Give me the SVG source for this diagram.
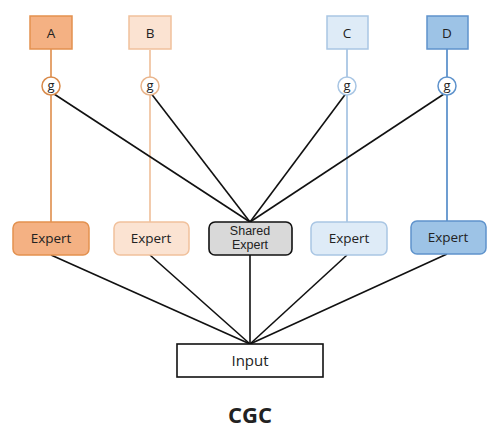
<svg xmlns="http://www.w3.org/2000/svg" width="498" height="445" viewBox="0 0 498 445">
<style>
text{font-family:"Open Sans","Noto Sans","Liberation Sans",sans-serif;fill:#222;text-anchor:middle}
.t{font-size:13.5px}
.g{font-size:13px}
.s{font-family:"Liberation Sans",Arial,sans-serif;font-size:12.5px}
.k{stroke:#111;stroke-width:1.6;fill:none}
.oa{stroke:#e39a5f}
.ob{stroke:#f1c6a4}
.bc{stroke:#a9c6e4}
.bd{stroke:#5f93cc}
</style>
<rect width="498" height="445" fill="#fff"/>
<g id="connectors" fill="none" stroke-width="1.8">
<line class="oa" x1="51" y1="49" x2="51" y2="77"/>
<line class="oa" x1="51" y1="95" x2="51" y2="222"/>
<line class="ob" x1="150" y1="50" x2="150" y2="77"/>
<line class="ob" x1="150" y1="95" x2="150" y2="222"/>
<line class="bc" x1="347" y1="49" x2="347" y2="77"/>
<line class="bc" x1="347" y1="95" x2="347" y2="222"/>
<line class="bd" x1="447" y1="49" x2="447" y2="77"/>
<line class="bd" x1="447" y1="95" x2="447" y2="221"/>
<line class="k" x1="51" y1="92" x2="250" y2="222"/>
<line class="k" x1="150" y1="92" x2="250" y2="222"/>
<line class="k" x1="347" y1="92" x2="250" y2="222"/>
<line class="k" x1="447" y1="92" x2="250" y2="222"/>
<line class="k" x1="51" y1="255" x2="250" y2="344"/>
<line class="k" x1="150" y1="255" x2="250" y2="344"/>
<line class="k" x1="250" y1="255" x2="250" y2="344"/>
<line class="k" x1="347" y1="255" x2="250" y2="344"/>
<line class="k" x1="447" y1="254" x2="250" y2="344"/>
</g>
<g id="A"><rect x="30" y="16" width="42" height="33" fill="#f4b183" stroke="#e3914f" stroke-width="1.5"/><text class="t" x="51" y="37.5">A</text></g>
<g id="B"><rect x="129" y="16" width="42" height="33" fill="#fbe3d2" stroke="#f1c19c" stroke-width="1.5"/><text class="t" x="150" y="37.5">B</text></g>
<g id="C"><rect x="327" y="16" width="41" height="33" fill="#deebf7" stroke="#a9c6e4" stroke-width="1.5"/><text class="t" x="347" y="37.5">C</text></g>
<g id="D"><rect x="427" y="16" width="41" height="33" fill="#9dc3e6" stroke="#5f93cc" stroke-width="1.5"/><text class="t" x="447" y="37.5">D</text></g>
<g id="gA"><circle cx="51" cy="86" r="9" fill="#fff" stroke="#d98a4a" stroke-width="1.5"/><text class="g" x="51" y="90">g</text></g>
<g id="gB"><circle cx="150" cy="86" r="9" fill="#fff" stroke="#e9b58c" stroke-width="1.5"/><text class="g" x="150" y="90">g</text></g>
<g id="gC"><circle cx="347" cy="86" r="9" fill="#fff" stroke="#a9c6e4" stroke-width="1.5"/><text class="g" x="347" y="90">g</text></g>
<g id="gD"><circle cx="447" cy="86" r="9" fill="#fff" stroke="#5f93cc" stroke-width="1.5"/><text class="g" x="447" y="90">g</text></g>
<g id="expertA"><rect x="13" y="222" width="76" height="33" rx="6" fill="#f4b183" stroke="#e3914f" stroke-width="1.5"/><text class="t" x="51" y="243">Expert</text></g>
<g id="expertB"><rect x="114" y="222" width="75" height="33" rx="6" fill="#fbe3d2" stroke="#f1c19c" stroke-width="1.5"/><text class="t" x="151" y="243">Expert</text></g>
<g id="shared"><rect x="209" y="222" width="83" height="33" rx="6" fill="#d9d9d9" stroke="#111" stroke-width="1.6"/><text class="s" x="250" y="235">Shared</text><text class="s" x="250" y="249">Expert</text></g>
<g id="expertC"><rect x="311" y="222" width="76" height="33" rx="6" fill="#deebf7" stroke="#a9c6e4" stroke-width="1.5"/><text class="t" x="349" y="243">Expert</text></g>
<g id="expertD"><rect x="411" y="221" width="75" height="33" rx="6" fill="#9dc3e6" stroke="#5f93cc" stroke-width="1.5"/><text class="t" x="448" y="242">Expert</text></g>
<g id="input"><rect x="177" y="344" width="146" height="33" fill="#fff" stroke="#111" stroke-width="1.6"/><text x="250" y="366" font-size="15">Input</text></g>
<text x="250" y="423" font-size="22" font-weight="bold" fill="#111">CGC</text>
</svg>
